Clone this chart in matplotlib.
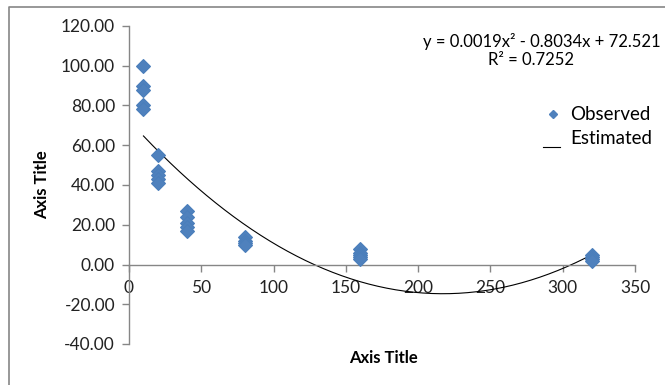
import numpy as np
import matplotlib
matplotlib.use('Agg')
from matplotlib import pyplot as plt
from matplotlib.lines import Line2D

# observed dose / response pairs
x_obs = [10, 10, 10, 10, 10,
         20, 20, 20, 20, 20,
         40, 40, 40, 40, 40,
         80, 80, 80, 80,
         160, 160, 160, 160, 160,
         320, 320, 320, 320]
y_obs = [100, 90, 88, 80, 78,
         55, 47, 45, 43, 41,
         27, 24, 21, 19, 17,
         14, 12, 11, 10,
         8, 6, 5, 4, 3,
         5, 4, 3, 2]

# quadratic trendline (coefficients as in the label, first one unrounded)
trend_coef = [0.00185, -0.8034, 72.521]
trend_range = [10, 320]
equation_label = 'y = 0.0019x² - 0.8034x + 72.521'
r2_label = 'R² = 0.7252'

x_ticks = [0, 50, 100, 150, 200, 250, 300, 350]
y_ticks = [-40, -20, 0, 20, 40, 60, 80, 100, 120]

plt.rcParams['font.family'] = ['Lato', 'DejaVu Sans']

blue = '#4F81BD'
axis_grey = '#868686'

fig = plt.figure(figsize=(6.65, 3.85), dpi=100)
ax = fig.add_axes([129 / 665, 1 - 344 / 385, (635 - 129) / 665, (344 - 26) / 385])

ax.plot(x_obs, y_obs, linestyle='none', marker='D', markersize=6.8,
        markerfacecolor=blue, markeredgecolor='#4A7EBB', markeredgewidth=0.8, zorder=3)

x_fit = np.linspace(trend_range[0], trend_range[1], 200)
ax.plot(x_fit, np.polyval(trend_coef, x_fit), color='black', linewidth=0.8, zorder=2)

ax.set_xlim(0, 350)
ax.set_ylim(-40, 120)
ax.set_xticks(x_ticks)
ax.set_yticks(y_ticks)
ax.set_yticklabels(['{:.2f}'.format(v) for v in y_ticks])

for side in ['top', 'right']:
    ax.spines[side].set_visible(False)
ax.spines['bottom'].set_position(('data', 0))
for side in ['left', 'bottom']:
    ax.spines[side].set_color(axis_grey)
    ax.spines[side].set_linewidth(1.0)
ax.tick_params(axis='both', direction='out', length=5, width=1.0, color=axis_grey,
               labelsize=12.5, labelcolor='#222222')
ax.tick_params(axis='y', pad=5)
ax.tick_params(axis='x', pad=6)

fig.text(42 / 665, 1 - 185 / 385, 'Axis Title', rotation=90, ha='center', va='center',
         fontsize=12, fontweight='bold')
fig.text(383 / 665, 1 - 358 / 385, 'Axis Title', ha='center', va='center',
         fontsize=12, fontweight='bold')

fig.text(661 / 665, 1 - 41 / 385, equation_label, ha='right', va='center', fontsize=12)
fig.text(531 / 665, 1 - 60 / 385, r2_label, ha='center', va='center', fontsize=12)

# legend drawn by hand so the "Estimated" stroke sits low like the original
fig.add_artist(Line2D([553 / 665], [1 - 114 / 385], transform=fig.transFigure,
                      marker='D', markersize=4.5, color=blue, linestyle='none'))
fig.text(570 / 665, 1 - 114 / 385, 'Observed', ha='left', va='center', fontsize=13.5)
fig.add_artist(Line2D([543 / 665, 560 / 665], [1 - 147 / 385, 1 - 147 / 385],
                      transform=fig.transFigure, color='black', linewidth=0.8))
fig.text(570 / 665, 1 - 138 / 385, 'Estimated', ha='left', va='center', fontsize=13.5)

# chart area border (right and bottom edges fall outside the image)
fig.add_artist(Line2D([9 / 665, 9 / 665, 1.0], [0.0, 1 - 7 / 385, 1 - 7 / 385],
                      transform=fig.transFigure, color=axis_grey, linewidth=1.2))

fig.savefig('out.png', dpi=100)
